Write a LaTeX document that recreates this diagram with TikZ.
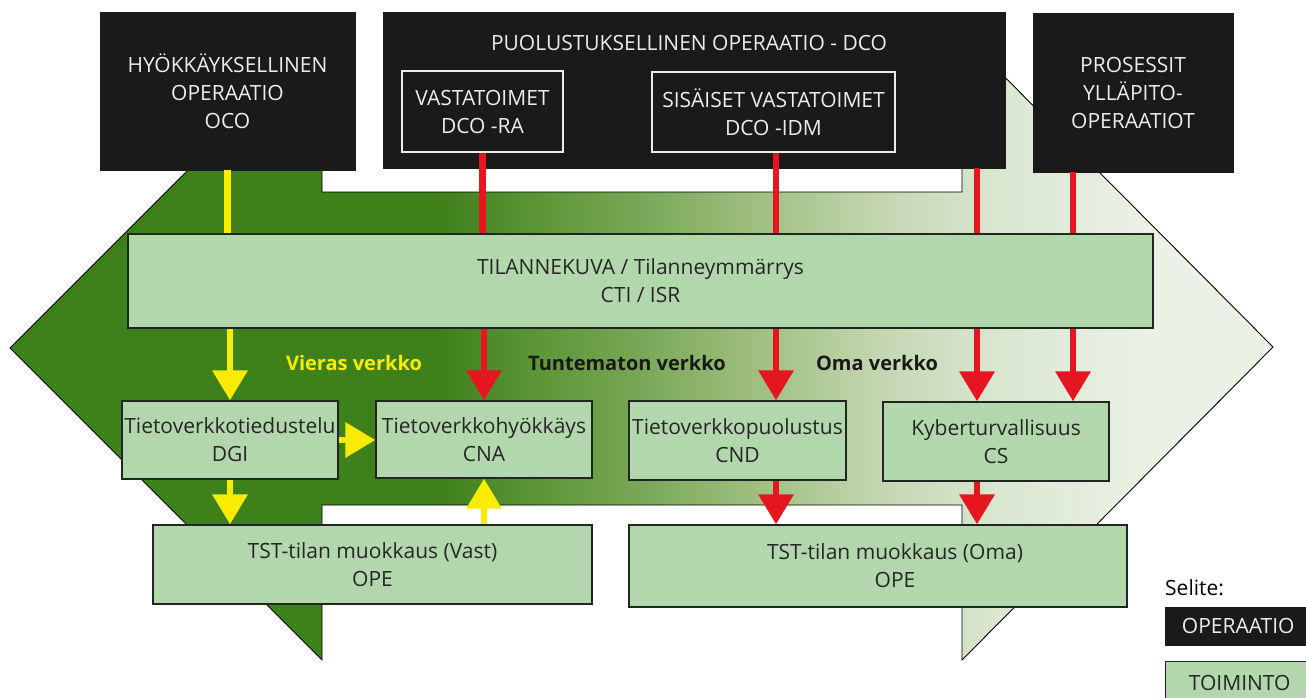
\documentclass[tikz,border=0pt]{standalone}
\usepackage{fontspec}
\setmainfont{Open Sans}
\usetikzlibrary{arrows.meta}

\definecolor{opfill}{RGB}{26,26,26}
\definecolor{optext}{RGB}{236,236,236}
\definecolor{actfill}{RGB}{178,215,172}
\definecolor{edgecol}{RGB}{32,38,32}
\definecolor{ylw}{RGB}{250,236,0}
\definecolor{rd}{RGB}{230,22,32}
\definecolor{gA}{RGB}{62,128,26}
\definecolor{gB}{RGB}{90,148,52}
\definecolor{gC}{RGB}{120,168,86}
\definecolor{gD}{RGB}{160,192,130}
\definecolor{gE}{RGB}{195,214,176}
\definecolor{gF}{RGB}{218,231,209}
\definecolor{gG}{RGB}{234,241,229}

% left-to-right fill of the double arrow (25bp..75bp = path extent)
\pgfdeclarehorizontalshading{bandshade}{100bp}{%
  color(0bp)=(gA); color(42bp)=(gA); color(45.5bp)=(gB); color(50bp)=(gC);
  color(54.7bp)=(gD); color(59.4bp)=(gE); color(64.2bp)=(gF);
  color(70bp)=(gG); color(100bp)=(gG)}

\tikzset{
  opbox/.style={draw=opfill, fill=opfill, text=optext, inner sep=0pt,
    align=center, font=\fontsize{21}{28}\selectfont},
  subbox/.style={draw=optext, line width=1.4pt, inner sep=0pt,
    text=optext, align=center, font=\fontsize{21}{28}\selectfont},
  actbox/.style={draw=edgecol, fill=actfill, line width=1.3pt, inner sep=0pt,
    text=black!85, align=center, font=\fontsize{21}{28}\selectfont},
  plain/.style={inner sep=0pt, align=center, font=\fontsize{21}{28}\selectfont},
  zonelabel/.style={inner sep=0pt, font=\fontsize{20}{24}\selectfont\bfseries},
  yline/.style={draw=ylw, line width=6.5pt},
  rline/.style={draw=rd, line width=6.5pt},
  bigtip/.style={-{Triangle[width=34pt,length=30pt]}},
}

\begin{document}
\begin{tikzpicture}[x=1pt,y=-1pt]
\useasboundingbox (0,0) rectangle (1306,697);

% double-headed background arrow
\shade[shading=bandshade, draw=black, line width=0.9pt]
  (10,348) -- (322,36) -- (322,192) -- (962,192) -- (962,34) -- (1273,347)
  -- (962,660) -- (962,505) -- (322,505) -- (322,660) -- cycle;

% operations
\node[opbox, minimum width=255pt, minimum height=158pt] (oco) at (227.5,91)
  {HYÖKKÄYKSELLINEN\\OPERAATIO\\OCO};
\node[opbox, minimum width=622pt, minimum height=156pt] (dco) at (694,90) {};
\node[plain, text=optext] (dcotitle) at (689,43) {PUOLUSTUKSELLINEN OPERAATIO - DCO};
\node[subbox, minimum width=161pt, minimum height=81pt] (ra) at (482.5,111.5)
  {VASTATOIMET\\DCO -RA};
\node[subbox, minimum width=243pt, minimum height=80pt] (idm) at (773.5,112)
  {SISÄISET VASTATOIMET\\DCO -IDM};
\node[opbox, minimum width=200pt, minimum height=159pt] (pros) at (1133,92.5)
  {PROSESSIT\\YLLÄPITO-\\OPERAATIOT};

% activities
\node[actbox, minimum width=1025pt, minimum height=94pt] (tk) at (640.5,281)
  {TILANNEKUVA / Tilanneymmärrys\\CTI / ISR};
\node[actbox, minimum width=216pt, minimum height=78pt] (dgi) at (230,440)
  {Tietoverkkotiedustelu\\DGI};
\node[actbox, minimum width=216pt, minimum height=77pt] (cna) at (484,439.5)
  {Tietoverkkohyökkäys\\CNA};
\node[actbox, minimum width=217pt, minimum height=79pt] (cnd) at (737.5,440.5)
  {Tietoverkkopuolustus\\CND};
\node[actbox, minimum width=226pt, minimum height=79pt] (cs) at (996,441.5)
  {Kyberturvallisuus\\CS};
\node[actbox, minimum width=439pt, minimum height=79pt] (tstv) at (372.5,564.5)
  {TST-tilan muokkaus (Vast)\\OPE};
\node[actbox, minimum width=498pt, minimum height=82pt] (tsto) at (878,566) {};
\node[plain, text=black!85] (tstotext) at (895,566) {TST-tilan muokkaus (Oma)\\OPE};

% zone labels
\node[zonelabel, text=ylw] (vieras) at (354,363) {Vieras verkko};
\node[zonelabel, text=black!90] (tunt) at (627,363) {Tuntematon verkko};
\node[zonelabel, text=black!90] (oma) at (877,363) {Oma verkko};

% columns of the red connectors
\coordinate (c2) at (776,0);
\coordinate (c3) at (977,0);
\coordinate (c4) at (1073,0);

% yellow flow (offensive side)
\draw[yline] (oco.south) -- (oco.south |- tk.north);
\draw[yline, bigtip] (dgi.north |- tk.south) -- (dgi.north);
\draw[yline, bigtip] (dgi.south) -- (dgi.south |- tstv.north);
\draw[yline, bigtip] (dgi.east) -- (cna.west |- dgi.east);
\draw[yline, bigtip] (cna.south |- tstv.north) -- (cna.south);

% red flow (defensive side)
\draw[rline] (ra.south) -- (ra.south |- tk.north);
\draw[rline, bigtip] (cna.north |- tk.south) -- (cna.north);
\draw[rline] (c2 |- idm.south) -- (c2 |- tk.north);
\draw[rline, bigtip] (c2 |- tk.south) -- (c2 |- cnd.north);
\draw[rline, bigtip] (c2 |- cnd.south) -- (c2 |- tsto.north);
\draw[rline] (c3 |- dco.south) -- (c3 |- tk.north);
\draw[rline, bigtip] (c3 |- tk.south) -- (c3 |- cs.north);
\draw[rline, bigtip] (c3 |- cs.south) -- (c3 |- tsto.north);
\draw[rline] (c4 |- pros.south) -- (c4 |- tk.north);
\draw[rline, bigtip] (c4 |- tk.south) -- (c4 |- cs.north);

% legend
\node[plain, anchor=west] (selite) at (1165,588) {Selite:};
\node[opbox, anchor=north west, minimum width=146pt, minimum height=38pt,
  text width=141pt] (legop) at (1165,607) {OPERAATIO};
\node[actbox, anchor=north west, minimum width=148pt, minimum height=42pt,
  text width=141pt] (legact) at (1165,661) {TOIMINTO};
\end{tikzpicture}
\end{document}
